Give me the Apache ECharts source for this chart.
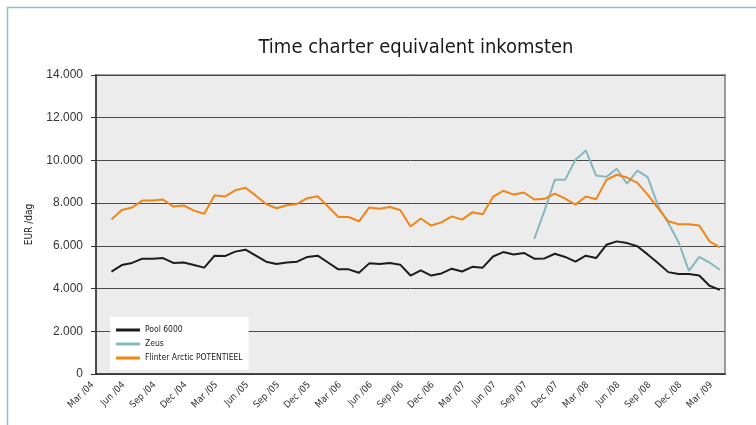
<!DOCTYPE html>
<html>
<head>
<meta charset="utf-8">
<script src="https://cdn.jsdelivr.net/npm/echarts@6/dist/echarts.min.js"></script>
<style>
  html, body { margin: 0; padding: 0; background: #fff; }
  #chart { width: 756px; height: 425px; }
</style>
</head>
<body>
<div id="chart"></div>
<script>
// maanden Mar/04 t/m Mar/09
var months = [
    'Mar /04', 'Apr /04', 'May /04', 'Jun /04', 'Jul /04', 'Aug /04', 'Sep /04', 'Oct /04', 'Nov /04', 'Dec /04', 'Jan /05', 'Feb /05',
    'Mar /05', 'Apr /05', 'May /05', 'Jun /05', 'Jul /05', 'Aug /05', 'Sep /05', 'Oct /05', 'Nov /05', 'Dec /05', 'Jan /06', 'Feb /06',
    'Mar /06', 'Apr /06', 'May /06', 'Jun /06', 'Jul /06', 'Aug /06', 'Sep /06', 'Oct /06', 'Nov /06', 'Dec /06', 'Jan /07', 'Feb /07',
    'Mar /07', 'Apr /07', 'May /07', 'Jun /07', 'Jul /07', 'Aug /07', 'Sep /07', 'Oct /07', 'Nov /07', 'Dec /07', 'Jan /08', 'Feb /08',
    'Mar /08', 'Apr /08', 'May /08', 'Jun /08', 'Jul /08', 'Aug /08', 'Sep /08', 'Oct /08', 'Nov /08', 'Dec /08', 'Jan /09', 'Feb /09',
    'Mar /09'
];

var pool6000 = [
    null, 4790, 5100, 5200, 5400, 5400, 5430, 5200, 5220, 5100, 4980, 5540,
    5520, 5730, 5820, 5540, 5260, 5150, 5220, 5260, 5480, 5540, 5220, 4900,
    4900, 4740, 5180, 5150, 5200, 5120, 4610, 4850, 4610, 4710, 4930, 4800,
    5020, 4980, 5500, 5710, 5600, 5670, 5400, 5410, 5630, 5480, 5260, 5540,
    5430, 6050, 6210, 6130, 5980, 5600, 5200, 4770, 4680, 4680, 4610, 4130,
    3940
];

var zeus = [
    null, null, null, null, null, null, null, null, null, null, null, null,
    null, null, null, null, null, null, null, null, null, null, null, null,
    null, null, null, null, null, null, null, null, null, null, null, null,
    null, null, null, null, null, null, 6320, 7650, 9100, 9100, 10030, 10470,
    9290, 9230, 9610, 8910, 9520, 9220, 7880, 7070, 6170, 4830, 5480, 5220,
    4880
];

var flinter = [
    null, 7230, 7680, 7800, 8120, 8120, 8170, 7840, 7890, 7650, 7500, 8370,
    8310, 8600, 8720, 8350, 7960, 7760, 7900, 7960, 8230, 8320, 7840, 7350,
    7350, 7150, 7800, 7740, 7820, 7680, 6910, 7280, 6950, 7100, 7380, 7230,
    7570, 7480, 8290, 8580, 8400, 8500, 8170, 8200, 8450, 8210, 7930, 8310,
    8180, 9090, 9330, 9200, 8950, 8400, 7770, 7150, 7010, 7010, 6950, 6210,
    5930
];

var seriesNames = ['Pool 6000', 'Zeus', 'Flinter Arctic POTENTIEEL'];
var seriesColors = ['#1c1c1c', '#86b8be', '#f08519'];

// smalle letter: font-stretch meegeven via de weight-string
var narrow = '"DejaVu Sans", sans-serif';

var oChart = echarts.init(document.getElementById('chart'));

var chartopt = {
    animation: false,
    color: seriesColors,
    title: {
        text: 'Time charter equivalent inkomsten',
        left: 411,
        textAlign: 'center',
        top: 33,
        textStyle: {
            fontFamily: narrow,
            fontSize: 20,
            fontWeight: 'normal condensed',
            color: '#1a1a1a'
        }
    },
    graphic: [{
        // lichtblauwe kader rond de grafiek
        type: 'rect',
        shape: { x: 7.5, y: 7.5, width: 800, height: 500 },
        style: { fill: 'none', stroke: '#8fc0c6', lineWidth: 1.5 },
        silent: true
    }],
    legend: {
        orient: 'vertical',
        left: 110,
        top: 317,
        backgroundColor: '#fff',
        padding: [7, 6, 6, 6],
        itemGap: 2,
        itemWidth: 24,
        itemHeight: 3,
        icon: 'rect',
        data: seriesNames,
        textStyle: {
            fontFamily: narrow,
            fontSize: 8.5,
            fontWeight: 'normal condensed',
            color: '#222',
            lineHeight: 12
        }
    },
    grid: {
        show: true,
        left: 96,
        right: 31,
        top: 75,
        bottom: 51,
        backgroundColor: '#ebeceb',
        borderColor: '#9a9a9a',
        borderWidth: 2
    },
    xAxis: {
        type: 'category',
        boundaryGap: true,
        data: months,
        axisLine: { lineStyle: { color: '#333', width: 1.5 } },
        axisTick: {
            interval: 2,
            length: 4,
            lineStyle: { color: '#555' }
        },
        axisLabel: {
            interval: 2,
            rotate: 45,
            margin: 1,
            padding: [0, 12, 0, 0],
            fontFamily: narrow,
            fontSize: 9.5,
            fontWeight: 'normal condensed',
            color: '#333'
        }
    },
    yAxis: {
        type: 'value',
        name: 'EUR /dag',
        nameLocation: 'middle',
        nameGap: 62,
        nameTextStyle: {
            fontFamily: narrow,
            fontSize: 10,
            fontWeight: 'normal condensed',
            color: '#222'
        },
        min: 0,
        max: 14000,
        interval: 2000,
        axisLine: { show: true, lineStyle: { color: '#333', width: 1.5 } },
        axisTick: { show: true, length: 5, lineStyle: { color: '#333' } },
        axisLabel: {
            margin: 13,
            fontFamily: '"Liberation Sans", Arial, sans-serif',
            fontSize: 12,
            color: '#333',
            formatter: function (v) {
                return v === 0 ? '0' : (v / 1000) + '.000';
            }
        },
        splitLine: { lineStyle: { color: '#4a4a4a', width: 1 } }
    },
    series: []
};

var seriesData = [pool6000, zeus, flinter];
for (var i = 0; i < seriesNames.length; i++) {
    chartopt.series.push({
        name: seriesNames[i],
        type: 'line',
        symbol: 'none',
        connectNulls: false,
        lineStyle: { width: 2, color: seriesColors[i] },
        itemStyle: { color: seriesColors[i] },
        data: seriesData[i]
    });
}

oChart.setOption(chartopt);
</script>
</body>
</html>
